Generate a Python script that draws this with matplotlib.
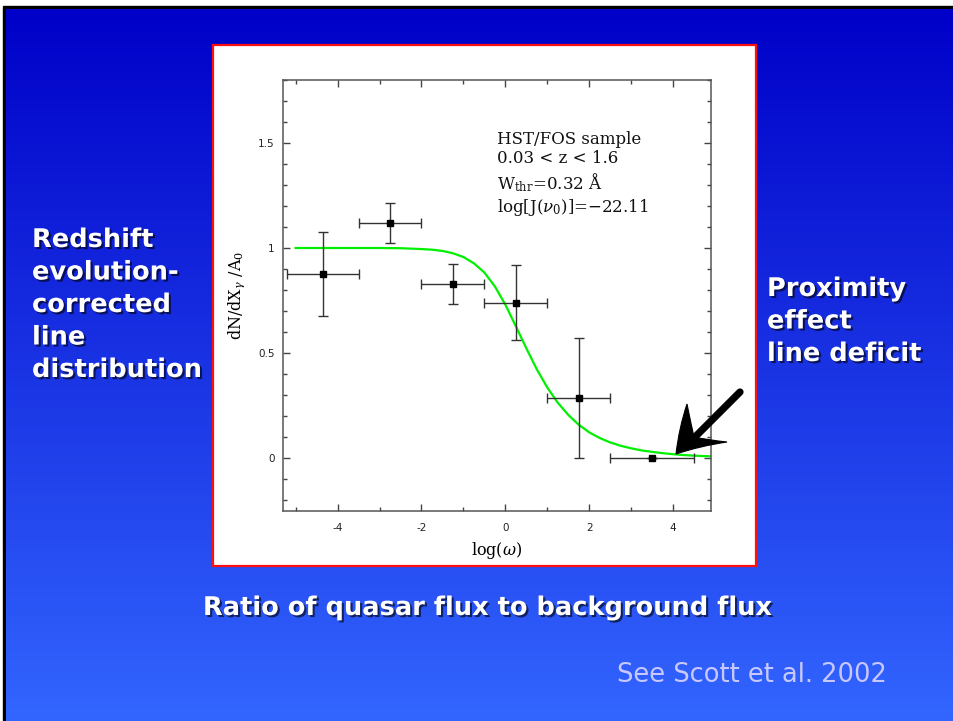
import numpy as np
import matplotlib.pyplot as plt
import matplotlib.patheffects as pe
from matplotlib.patches import Rectangle, PathPatch
from matplotlib.path import Path
from matplotlib.ticker import MultipleLocator, FixedLocator, FixedFormatter

plt.rcParams['axes.unicode_minus'] = False
plt.rcParams['mathtext.fontset'] = 'dejavuserif'

W, H = 954, 721  # slide size in pixels

# binned line density vs. log(omega), HST/FOS sample
log_w = [-4.35, -2.75, -1.25, 0.25, 1.75, 3.5]
log_w_lo = [-5.2, -3.5, -2.0, -0.5, 1.0, 2.5]
log_w_hi = [-3.5, -2.0, -0.5, 1.0, 2.5, 4.5]
dndx = [0.875, 1.12, 0.83, 0.74, 0.285, 0.0]
dndx_err = [0.2, 0.095, 0.095, 0.18, 0.285, 0.0]

# proximity effect model curve
model_x = [-5.0, -4.0, -3.0, -2.5, -2.0, -1.75, -1.5, -1.25, -1.0, -0.75, -0.5,
           -0.25, 0.0, 0.25, 0.5, 0.75, 1.0, 1.25, 1.5, 1.75, 2.0, 2.25, 2.5,
           2.75, 3.0, 3.25, 3.5, 3.75, 4.0, 4.25, 4.5, 4.75, 4.9]
model_y = [1.0, 1.0, 1.0, 0.999, 0.995, 0.992, 0.986, 0.975, 0.957, 0.927, 0.883,
           0.817, 0.73, 0.627, 0.522, 0.422, 0.335, 0.263, 0.205, 0.158, 0.122,
           0.095, 0.074, 0.058, 0.046, 0.036, 0.029, 0.023, 0.018, 0.014, 0.011,
           0.009, 0.008]

y_ticks = [0, 0.5, 1, 1.5]
y_tick_labels = ['0', '0.5', '1', '1.5']
x_ticks = [-4, -2, 0, 2, 4]
x_tick_labels = ['-4', '-2', '0', '2', '4']

info_lines = ['HST/FOS sample',
              '0.03 < z < 1.6',
              r'W$_{\rm thr}$=0.32 Å',
              r'log[J($\nu_0$)]=$-$22.11']
left_lines = ['Redshift', 'evolution-', 'corrected', 'line', 'distribution']
right_lines = ['Proximity', 'effect', 'line deficit']
bottom_caption = 'Ratio of quasar flux to background flux'
credit = 'See Scott et al. 2002'

fig = plt.figure(figsize=(W / 100, H / 100), dpi=100)

# slide background
bg = fig.add_axes([0, 0, 1, 1], zorder=0)
bg.add_patch(Rectangle((3, 6), W + 10, H, color='black', zorder=0))
top = np.array([0, 0, 200]) / 255
bot = np.array([51, 102, 255]) / 255
t = np.linspace(0, 1, 512)[:, None, None]
grad = np.repeat(top + (bot - top) * t, 4, axis=1)
bg.imshow(grad, extent=(6, W + 10, H + 2, 9), aspect='auto',
          interpolation='nearest', zorder=1)
bg.add_patch(Rectangle((213, 45), 543, 521, facecolor='white',
                       edgecolor='#ff1010', lw=1.6, zorder=2))
bg.set_xlim(0, W)
bg.set_ylim(H, 0)
bg.axis('off')

# the plot
ax = fig.add_axes([283 / W, 1 - 510.5 / H, 428 / W, 430.5 / H], zorder=1)
ax.plot(model_x, model_y, color='#00f000', lw=1.6, zorder=2)
x_err = [np.subtract(log_w, log_w_lo), np.subtract(log_w_hi, log_w)]
ax.errorbar(log_w, dndx, xerr=x_err, yerr=dndx_err, fmt='s', color='black',
            ecolor='#333333', elinewidth=1.0, capsize=3.5, capthick=1.0,
            markersize=5, zorder=3)

ax.set_xlim(-5.3, 4.9)
ax.set_ylim(-0.25, 1.8)
ax.xaxis.set_major_locator(FixedLocator(x_ticks))
ax.xaxis.set_major_formatter(FixedFormatter(x_tick_labels))
ax.xaxis.set_minor_locator(MultipleLocator(1))
ax.yaxis.set_major_locator(FixedLocator(y_ticks))
ax.yaxis.set_major_formatter(FixedFormatter(y_tick_labels))
ax.yaxis.set_minor_locator(MultipleLocator(0.1))
ax.tick_params(which='both', direction='in', top=True, right=True,
               color='#444444', labelsize=7.5, labelcolor='#222222')
ax.tick_params(which='major', length=5, width=1)
ax.tick_params(which='minor', length=3.2, width=1)
ax.tick_params(axis='x', which='major', pad=9)
ax.tick_params(axis='y', which='major', pad=6)
for s in ax.spines.values():
    s.set_color('#555555')
    s.set_linewidth(1.1)

ax.set_xlabel(r'log($\omega$)', family='DejaVu Serif', fontsize=11.5, labelpad=5)
ax.set_ylabel(r'dN/dX$_\gamma$ /A$_0$', family='DejaVu Serif', fontsize=11.5,
              labelpad=8)

ax.text(0.5, 0.882, '\n'.join(info_lines), transform=ax.transAxes,
        family='DejaVu Serif', fontsize=12, va='top', ha='left',
        linespacing=1.2, color='#111111')

# slide text and arrow on top
ov = fig.add_axes([0, 0, 1, 1], zorder=2)
ov.set_xlim(0, W)
ov.set_ylim(H, 0)
ov.axis('off')

shadow = [pe.SimplePatchShadow(offset=(1.5, -1.5), shadow_rgbFace='black',
                               alpha=0.6), pe.Normal()]
bold = dict(family='DejaVu Sans', weight='bold', fontsize=18.5, color='white',
            va='center', ha='left', path_effects=shadow)
for i, line in enumerate(left_lines):
    ov.text(32, 240 + i * 32.5, line, **bold)
for i, line in enumerate(right_lines):
    ov.text(767, 289 + i * 32.5, line, **bold)
ov.text(488, 608, bottom_caption, **{**bold, 'ha': 'center'})
ov.text(617, 675, credit, family='DejaVu Sans', fontsize=18.5,
        color='#c8c8ff', va='center', ha='left')

# pointer to the deficit at high log(omega)
ov.plot([740, 693], [392, 439], color='black', lw=5.2, solid_capstyle='round')
verts = [(676, 454), (679, 428), (687, 404), (691, 424), (694, 437),
         (708, 440), (727, 442), (700, 446), (676, 454), (676, 454)]
codes = [Path.MOVETO, Path.CURVE3, Path.CURVE3, Path.CURVE3, Path.CURVE3,
         Path.CURVE3, Path.CURVE3, Path.CURVE3, Path.CURVE3, Path.CLOSEPOLY]
ov.add_patch(PathPatch(Path(verts, codes), facecolor='black', edgecolor='black',
                       lw=0.8))

fig.savefig('out.png', dpi=100)
